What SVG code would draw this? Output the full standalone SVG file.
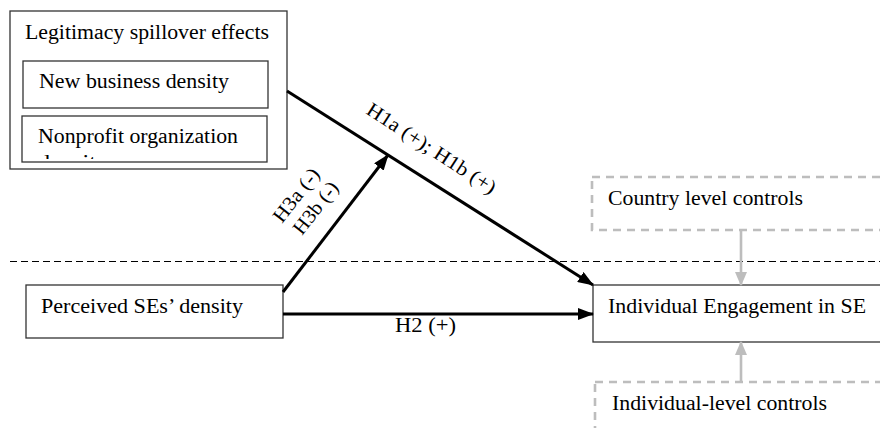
<svg xmlns="http://www.w3.org/2000/svg" width="880" height="428" viewBox="0 0 880 428">
<style>
text{font-family:"Liberation Serif","Times New Roman",serif;font-size:20px;fill:#000}
.box{fill:#fff;stroke:#333;stroke-width:1.3}
.ctrl{fill:none;stroke:#bdbdbd;stroke-width:2.6;stroke-dasharray:8 6}
.blk{stroke:#000;stroke-width:3;fill:none}
.gry{stroke:#bdbdbd;stroke-width:2.6;fill:none}
</style>
<defs>
<marker id="ab" markerUnits="userSpaceOnUse" markerWidth="16" markerHeight="12" refX="15" refY="6" orient="auto"><path d="M0,0 L16,6 L0,12 Z" fill="#000"/></marker>
<marker id="ag" markerUnits="userSpaceOnUse" markerWidth="14" markerHeight="12" refX="13" refY="6" orient="auto"><path d="M0,0 L14,6 L0,12 Z" fill="#bdbdbd"/></marker>
<clipPath id="c2"><rect x="22" y="116" width="245" height="43"/></clipPath>
</defs>
<line x1="10" y1="261.5" x2="880" y2="261.5" stroke="#000" stroke-width="1" stroke-dasharray="7 4"/>
<g id="legitimacy">
<rect class="box" x="10" y="11" width="277" height="158"/>
<text x="25" y="39" textLength="244" lengthAdjust="spacingAndGlyphs">Legitimacy spillover effects</text>
</g>
<g id="newbusiness">
<rect class="box" x="23" y="61" width="245" height="47"/>
<text x="39" y="88" textLength="190" lengthAdjust="spacingAndGlyphs">New business density</text>
</g>
<g id="nonprofit">
<rect class="box" x="22" y="116" width="245" height="46"/>
<text x="38" y="143" textLength="200" lengthAdjust="spacingAndGlyphs">Nonprofit organization</text>
<text x="38" y="169" clip-path="url(#c2)" textLength="70" lengthAdjust="spacingAndGlyphs">density</text>
</g>
<g id="perceived">
<rect class="box" x="26" y="285" width="257" height="53"/>
<text x="41" y="313" textLength="202" lengthAdjust="spacingAndGlyphs">Perceived SEs’ density</text>
</g>
<g id="engagement">
<rect class="box" x="593" y="285" width="300" height="57"/>
<text x="608" y="313" textLength="258" lengthAdjust="spacingAndGlyphs">Individual Engagement in SE</text>
</g>
<g id="country">
<rect class="ctrl" x="592" y="177" width="310" height="53"/>
<text x="608" y="205" textLength="195" lengthAdjust="spacingAndGlyphs">Country level controls</text>
</g>
<g id="individual">
<rect class="ctrl" x="595" y="382" width="310" height="80"/>
<text x="612" y="410" textLength="215" lengthAdjust="spacingAndGlyphs">Individual-level controls</text>
</g>
<g id="connectors">
<line class="blk" x1="287" y1="91" x2="593" y2="285" marker-end="url(#ab)"/>
<line class="blk" x1="283" y1="292" x2="388" y2="155" marker-end="url(#ab)"/>
<line class="blk" x1="283" y1="314" x2="593" y2="314" marker-end="url(#ab)"/>
<line class="gry" x1="741" y1="231" x2="741" y2="285" marker-end="url(#ag)"/>
<line class="gry" x1="741" y1="382" x2="741" y2="342" marker-end="url(#ag)"/>
<text transform="translate(365,113) rotate(33)" textLength="150" lengthAdjust="spacingAndGlyphs">H1a (+); H1b (+)</text>
<text transform="translate(282,224) rotate(-52)" textLength="63" lengthAdjust="spacingAndGlyphs">H3a (-)</text>
<text transform="translate(302,236) rotate(-52)" textLength="61" lengthAdjust="spacingAndGlyphs">H3b (-)</text>
<text x="395" y="332" textLength="61" lengthAdjust="spacingAndGlyphs">H2 (+)</text>
</g>
</svg>
